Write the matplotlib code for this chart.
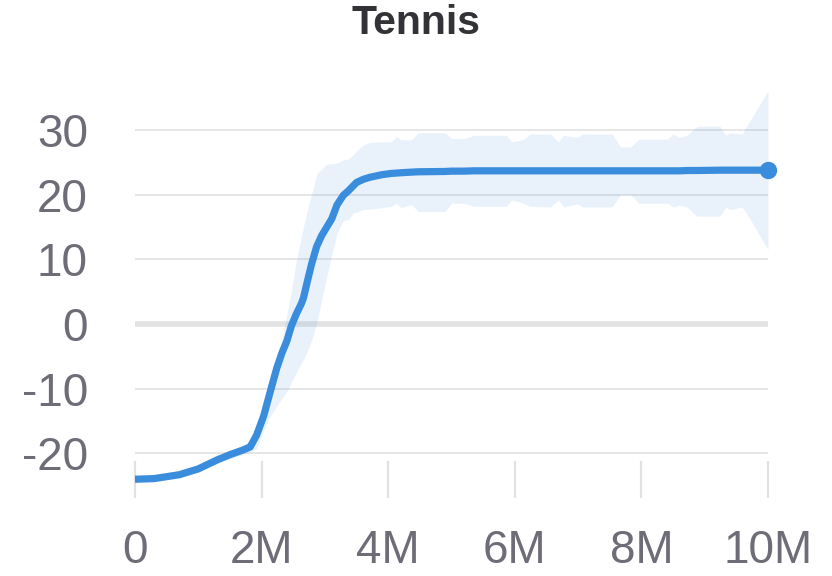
import matplotlib
matplotlib.use("Agg")
import matplotlib.pyplot as plt

_TEXT   = "#333337"
_MUTED  = "#6d6c77"
_GRID   = "#e6e6e6"
_ZERO   = "#e3e3e3"
_TICK   = "#e2e2e2"
_LINE   = "#3a8ddd"

# шаги обучения, млн
steps = [0.0, 0.3, 0.7, 1.0, 1.15, 1.3, 1.5, 1.7, 1.82, 1.92, 2.03, 2.13,
         2.24, 2.32, 2.40, 2.47, 2.55, 2.63, 2.66, 2.74, 2.79, 2.87, 2.95,
         3.03, 3.11, 3.19, 3.29, 3.37, 3.45, 3.5, 3.61, 3.71, 3.9, 4.05,
         4.13, 4.2, 4.37, 4.47, 4.9, 5.0, 5.2, 5.35, 5.87, 5.95, 6.13, 6.24,
         6.56, 6.69, 6.77, 6.99, 7.07, 7.54, 7.67, 7.83, 7.96, 8.41, 8.5,
         8.6, 8.72, 8.88, 9.24, 9.33, 9.4, 9.59, 9.72, 10.0]

reward_mean = [-24.0, -23.9, -23.3, -22.4, -21.7, -21.0, -20.2, -19.5, -19.0,
               -17.2, -14.3, -10.7, -6.8, -4.5, -2.6, -0.3, 1.6, 3.2, 4.0,
               7.3, 9.3, 12.0, 13.7, 15.0, 16.3, 18.4, 19.9, 20.6, 21.4, 21.9,
               22.4, 22.7, 23.1, 23.3, 23.35, 23.4, 23.5, 23.55, 23.6, 23.65,
               23.65, 23.7, 23.7, 23.7, 23.7, 23.7, 23.7, 23.7, 23.7, 23.7,
               23.7, 23.7, 23.7, 23.7, 23.7, 23.7, 23.7, 23.7, 23.75, 23.75,
               23.8, 23.8, 23.8, 23.8, 23.8, 23.8]

reward_upper = [-23.8, -23.6, -23.0, -22.0, -21.3, -20.5, -19.6, -18.8, -18.0,
                -16.0, -12.7, -9.0, -5.5, -2.5, 1.5, 5.0, 10.0, 13.5, 15.0,
                18.3, 20.1, 23.2, 24.0, 24.7, 24.8, 24.9, 25.4, 25.5, 26.2,
                26.8, 27.7, 28.1, 28.2, 28.2, 29.0, 28.5, 28.5, 29.6, 29.6,
                28.7, 28.7, 29.2, 29.2, 28.2, 28.5, 29.4, 29.4, 28.2, 29.2,
                28.9, 29.4, 29.4, 27.4, 27.4, 28.6, 28.6, 29.4, 28.9, 29.2,
                30.6, 30.6, 29.2, 29.6, 29.4, 31.5, 36.1]

reward_lower = [-24.2, -24.2, -23.6, -22.8, -22.1, -21.5, -20.8, -20.2, -19.8,
                -19.3, -16.5, -14.3, -12.7, -11.5, -10.4, -9.0, -7.5, -6.0,
                -5.5, -3.8, -2.5, 0.1, 3.8, 7.3, 10.8, 14.0, 16.0, 16.2, 17.2,
                17.3, 17.7, 17.8, 18.0, 18.2, 18.7, 18.0, 18.5, 17.4, 17.4,
                18.7, 18.7, 18.2, 18.2, 19.2, 18.7, 18.2, 18.1, 19.2, 18.1,
                18.6, 18.1, 18.1, 20.0, 20.0, 18.7, 18.7, 18.1, 18.4, 18.1,
                16.7, 16.7, 18.1, 17.7, 18.1, 16.2, 11.5]

x_ticks = [0, 2, 4, 6, 8, 10]
x_tick_labels = ["0", "2M", "4M", "6M", "8M", "10M"]
y_ticks = [-20, -10, 0, 10, 20, 30]

plt.rcParams["font.family"] = ["Liberation Sans", "DejaVu Sans"]
plt.rcParams["axes.unicode_minus"] = False

fig = plt.figure(figsize=(8.32, 5.76), dpi=100)
fig.patch.set_facecolor("white")
ax = fig.add_axes([135 / 832, 1 - 498 / 576, (768 - 135) / 832, (498 - 90) / 576])

ax.fill_between(steps, reward_lower, reward_upper,
                color=_LINE, alpha=0.11, lw=0, zorder=2)
ax.plot(steps, reward_mean, color=_LINE, lw=5.2, zorder=4,
        solid_capstyle="butt")
ax.plot([steps[-1]], [reward_mean[-1]], "o", color=_LINE, ms=11.5,
        zorder=5, clip_on=False)

# сетка: обычные линии + жирный ноль
for v in y_ticks:
    if v == 0:
        ax.axhline(0, color=_ZERO, lw=4, zorder=1)
    else:
        ax.axhline(v, color=_GRID, lw=1.4, zorder=1)

ax.set_xlim(0, 10)
ax.set_ylim(-26.9, 36.2)
ax.set_xticks(x_ticks)
ax.set_xticklabels(x_tick_labels)
ax.set_yticks(y_ticks)

for sp in ax.spines.values():
    sp.set_visible(False)

ax.tick_params(axis="x", direction="in", length=26.5, width=1.6,
               color=_TICK, labelsize=33, labelcolor=_MUTED, pad=22)
ax.tick_params(axis="y", length=0, labelsize=33, labelcolor=_MUTED, pad=34)

fig.text(0.5, 1 - 23 / 576, "Tennis", ha="center", va="center",
         fontsize=29.5, fontweight="bold", color=_TEXT)

fig.savefig("out.png", dpi=100, facecolor="white")
